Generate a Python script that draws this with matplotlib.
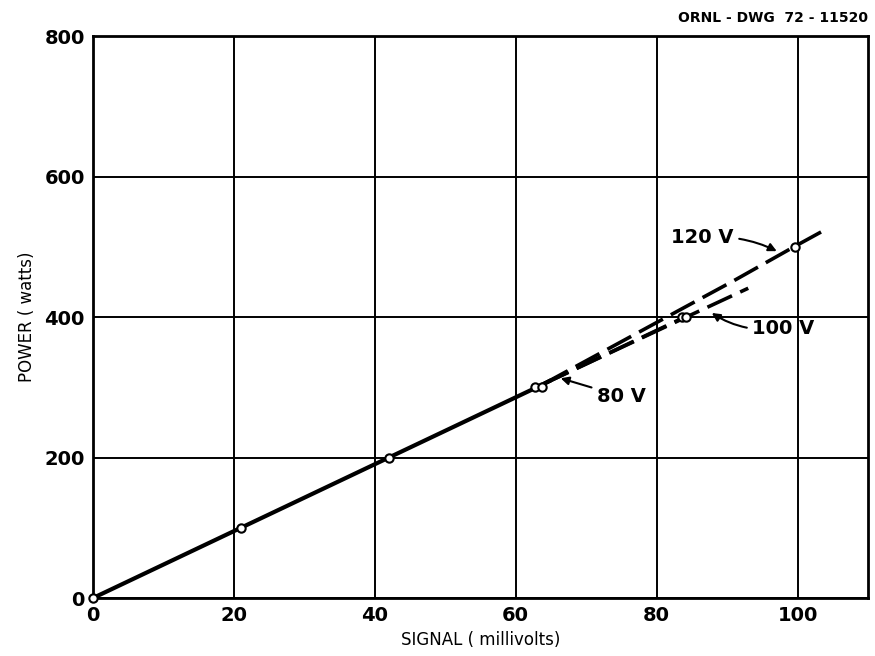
import matplotlib
matplotlib.use("Agg")
import matplotlib.pyplot as plt

# Data
solid_x = [0, 21, 42, 63, 65]
solid_y = [0, 100, 200, 300, 310]
v80_x = [64, 84]
v80_y = [305, 400]
v100_x = [64, 84, 93]
v100_y = [305, 399, 441]
v120_x = [64, 84, 91, 99.5, 103.5]
v120_y = [305, 414, 452, 500, 522]
pts_x = [0, 21, 42, 62.8, 63.7, 83.6, 84.2, 99.7]
pts_y = [0, 100, 200, 300, 300, 400, 400, 500]
xticks = [0, 20, 40, 60, 80, 100]
yticks = [0, 200, 400, 600, 800]

fig = plt.figure(figsize=(8.75, 6.56), dpi=100)
ax = fig.add_axes([0.1063, 0.0884, 0.8857, 0.8566])
ax.set_xlim(0, 110)
ax.set_ylim(0, 800)

ax.plot(solid_x, solid_y, color="black", lw=3.0, solid_capstyle="butt", zorder=3)
for xs, ys in [(v80_x, v80_y), (v100_x, v100_y), (v120_x, v120_y)]:
    ax.plot(xs, ys, color="black", lw=2.6, dashes=(7.5, 2.5), zorder=3)
ax.plot(pts_x, pts_y, 'o', ms=6, mfc="white", mec="black", mew=1.5, zorder=4, clip_on=False)

ax.set_xticks(xticks)
ax.set_yticks(yticks)
ax.tick_params(length=0, labelsize=14, pad=6)
for lab in ax.get_xticklabels() + ax.get_yticklabels():
    lab.set_fontweight("bold")
ax.grid(True, color="black", lw=1.4)
ax.set_axisbelow(True)
for s in ax.spines.values():
    s.set_linewidth(2)

ax.set_xlabel("SIGNAL ( millivolts)", fontsize=12, labelpad=4)
ax.set_ylabel("POWER ( watts)", fontsize=12, labelpad=6)

arrowprops = dict(arrowstyle="-|>", color="black", lw=1.5, mutation_scale=12,
                  connectionstyle="arc3,rad=-0.15")
ax.annotate("120 V", xy=(97.4, 492), xytext=(86.5, 513), fontsize=14, fontweight="bold",
            ha="center", va="center", arrowprops=arrowprops)
ax.annotate("100 V", xy=(87.5, 408), xytext=(98, 384), fontsize=14, fontweight="bold",
            ha="center", va="center",
            arrowprops=dict(arrowstyle="-|>", color="black", lw=1.5, mutation_scale=12,
                            connectionstyle="arc3,rad=-0.2"))
ax.annotate("80 V", xy=(66, 314), xytext=(75, 287), fontsize=14, fontweight="bold",
            ha="center", va="center",
            arrowprops=dict(arrowstyle="-|>", color="black", lw=1.5, mutation_scale=12,
                            connectionstyle="arc3,rad=0"))

fig.text(0.992, 0.972, "ORNL - DWG  72 - 11520", ha="right", va="center",
         fontsize=10, fontweight="bold")

fig.savefig("out.png", dpi=100)
